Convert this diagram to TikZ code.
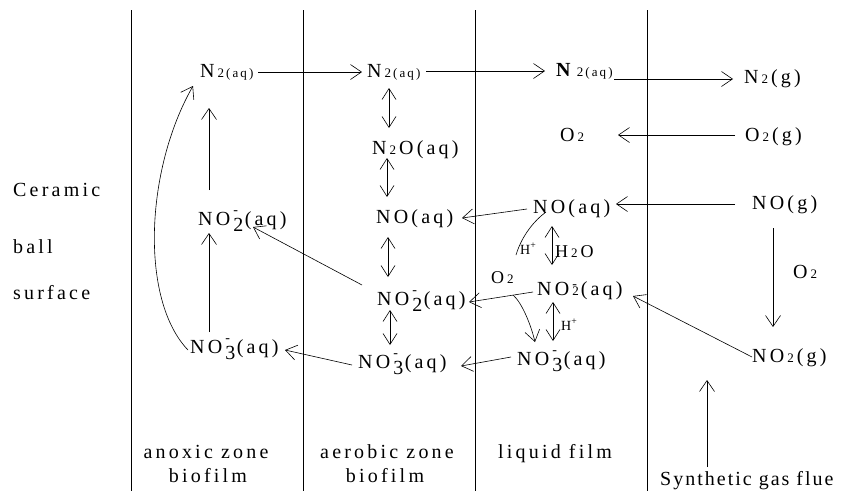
\documentclass[tikz,border=0pt]{standalone}
\usepackage{fontspec}
\setmainfont{Liberation Serif}[LetterSpace=16]
\usetikzlibrary{arrows.meta,calc}
\newcommand{\sm}[1]{\hspace{3pt}{\fontsize{13}{13}\selectfont #1}}
\newcommand{\smo}[1]{\hspace{3pt}{\fontsize{13}{13}\selectfont #1}\hspace{3pt}}
\newcommand{\ionb}[1]{\hspace{3pt}\rlap{\raisebox{10.5pt}{\fontsize{14}{14}\selectfont -}}\raisebox{-6pt}{#1}\hspace{1.5pt}}
\newcommand{\ions}[1]{\hspace{3pt}\rlap{\raisebox{6.5pt}{\fontsize{14}{14}\selectfont -}}{\fontsize{13}{13}\selectfont #1}\hspace{2pt}}
\tikzset{
  every node/.style={inner xsep=0pt, inner ysep=1.5pt, font=\fontsize{20}{23}\selectfont},
  lbl/.style={anchor=base west},
  zlbl/.style={anchor=base},
  small/.style={font=\fontsize{14}{14}\selectfont},
  mid/.style={font=\fontsize{18}{20}\selectfont},
  arr/.style={-{Straight Barb[length=11pt,width=15pt]}, line width=0.6pt},
  darr/.style={{Straight Barb[length=11pt,width=14pt]}-{Straight Barb[length=11pt,width=14pt]}, line width=0.6pt},
  zone/.style={line width=0.8pt}
}
\begin{document}
\begin{tikzpicture}[x=1pt,y=-1pt]
\useasboundingbox (0,0) rectangle (849,491);
% zone boundaries
\coordinate (b1t) at (131,10); \coordinate (b1b) at (131,491);
\coordinate (b2t) at (303,10); \coordinate (b2b) at (303,491);
\coordinate (b3t) at (475,10); \coordinate (b3b) at (475,491);
\coordinate (b4t) at (647,10); \coordinate (b4b) at (647,491);
\draw[zone] (b1t) -- (b1b);
\draw[zone] (b2t) -- (b2b);
\draw[zone] (b3t) -- (b3b);
\draw[zone] (b4t) -- (b4b);
% side labels
\node[lbl] (cer) at (13,196) {Ceramic};
\node[lbl] (ball) at (13,253) {ball};
\node[lbl] (surf) at (13,299) {surface};
\node[zlbl] (an1) at (206,458) {anoxic zone};
\node[zlbl] (an2) at (208,482) {biofilm};
\node[zlbl] (ae1) at (387,458) {aerobic zone};
\node[zlbl] (ae2) at (385,482) {biofilm};
\node[zlbl] (lf) at (555,458) {liquid film};
\node[lbl, font=\fontsize{20}{23}\selectfont\addfontfeature{LetterSpace=10}] (SGF) at (660,485) {Synthetic gas flue};
% species
\node[lbl] (N2L) at (200,77) {N\sm{2(aq)}};
\node[lbl] (N2M) at (367,77) {N\sm{2(aq)}};
\node[lbl] (N2Q) at (556,76) {\textbf{N}\sm{2(aq)}};
\node[lbl] (N2G) at (744,83) {N\smo{2}(g)};
\node[lbl] (O2Q) at (560,141) {O\sm{2}};
\node[lbl] (O2G) at (745,141) {O\smo{2}(g)};
\node[lbl] (N2O) at (372,154) {N\smo{2}O(aq)};
\node[lbl] (NOM) at (376,223) {NO(aq)};
\node[lbl] (NOQ) at (533,213) {NO(aq)};
\node[lbl] (NOG) at (752,209) {NO(g)};
\node[lbl] (NO2L) at (198,225) {NO\ionb{2}(aq)};
\node[lbl] (NO2M) at (377,305) {NO\ionb{2}(aq)};
\node[lbl] (NO2Q) at (537,295) {NO\ions{2}(aq)};
\node[lbl] (NO3L) at (190,353) {NO\ionb{3}(aq)};
\node[lbl] (NO3M) at (358,368) {NO\ionb{3}(aq)};
\node[lbl] (NO3Q) at (517,365) {NO\ionb{3}(aq)};
\node[lbl, small] (Hp1) at (520,254) {H\textsuperscript{+}};
\node[lbl, mid] (H2O) at (555,257) {H\smo{2}O};
\node[lbl, mid] (O2s) at (491,283) {O\sm{2}};
\node[lbl, small] (Hp2) at (561,330) {H\textsuperscript{+}};
\node[lbl] (O2R) at (793,278) {O\sm{2}};
\node[lbl] (NO2G) at (752,362) {NO\smo{2}(g)};
\coordinate (sgtop) at (707,380);
% gas / liquid transfers
\draw[arr] ($(N2L.base west)+(58,-5)$) -- ($(N2M.base west)+(-5,-5)$);
\draw[arr] ($(N2M.base west)+(59,-6)$) -- ($(N2Q.base west)+(-11,-5)$);
\draw[arr] ($(N2Q.base west)+(58,3)$) -- ($(N2G.base west)+(-11,-4)$);
\draw[arr] ($(O2G.base west)+(-10,-6)$) -- ($(O2Q.base west)+(58,-6)$);
\draw[arr] ($(NOG.base west)+(-17,-5)$) -- ($(NOQ.base west)+(83,-9)$);
\draw[arr] ($(NOG.base west)+(21,19)$) -- ($(NO2G.base west)+(21,-35)$);
\draw[arr] ($(SGF.base west)+(47,-18)$) -- (sgtop);
\draw[arr] ($(NO2G.base west)+(0,-5)$) -- ($(NO2Q.base west)+(96,1)$);
% aerobic column equilibria
\draw[darr] ($(N2M.base west)+(22,11)$) -- ($(N2O.base west)+(17,-26)$);
\draw[darr] ($(N2O.base west)+(15,4)$) -- ($(NOM.base west)+(11,-26)$);
\draw[darr] ($(NOM.base west)+(12,14)$) -- ($(NO2M.base west)+(11,-28)$);
\draw[darr] ($(NO2M.base west)+(13,5)$) -- ($(NO3M.base west)+(32,-23)$);
% liquid column equilibria
\draw[darr] ($(NOQ.base west)+(19,13)$) -- ($(NO2Q.base west)+(15,-30)$);
\draw[darr] ($(NO2Q.base west)+(16,7)$) -- ($(NO3Q.base west)+(36,-24)$);
% liquid -> aerobic
\draw[arr] ($(NOQ.base west)+(-6,-4)$) -- ($(NOM.base west)+(86,-5)$);
\draw[arr] ($(NO2Q.base west)+(-4,-3)$) -- coordinate[pos=0.31] (o2c) ($(NO2M.base west)+(92,-3)$);
\draw[arr] ($(NO3Q.base west)+(-6,-8)$) -- ($(NO3M.base west)+(103,-2)$);
% aerobic -> anoxic
\draw[arr] ($(NO3M.base west)+(-6,-3)$) -- ($(NO3L.base west)+(95,-3)$);
\draw[arr] ($(NO2M.base west)+(-15,-20)$) -- ($(NO2L.base west)+(55,2)$);
% anoxic column
\draw[arr] ($(NO3L.base west)+(19,-21)$) -- ($(NO2L.base west)+(11,8)$);
\draw[arr] ($(NO2L.base west)+(11,-35)$) -- ($(N2L.base west)+(9,31)$);
\draw[arr] ($(NO3L.base west)+(-2,-3)$) .. controls (140,300) and (145,170) .. ($(N2L.base west)+(-7,9)$);
% liquid film side reactions
\draw[line width=0.6pt] ($(NOQ.base west)+(13,-1)$) .. controls +(-11,8) and +(6,-20) .. ($(Hp1.base west)+(-4,1)$);
\draw[arr] (o2c) .. controls +(9,8) and +(-4,-17) .. ($(NO3Q.base west)+(18,-23)$);
\end{tikzpicture}
\end{document}
